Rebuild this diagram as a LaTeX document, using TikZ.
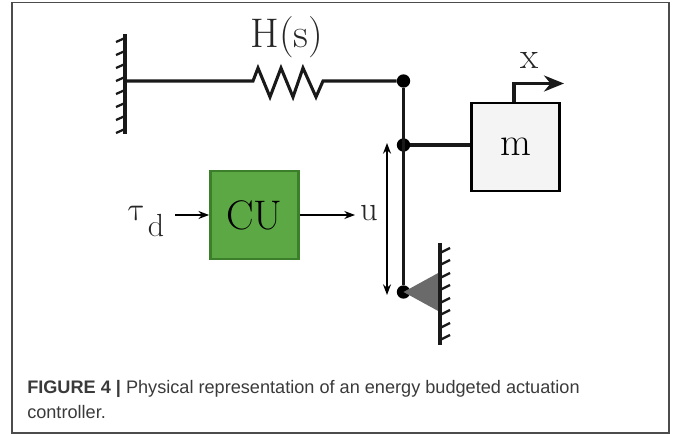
\documentclass[tikz,border=0pt]{standalone}
\usepackage{amsmath}
\usepackage{fontspec}
\usetikzlibrary{arrows.meta}
\newfontfamily\capfont{Liberation Sans}
\definecolor{cugreen}{HTML}{5BA845}
\definecolor{cuedge}{HTML}{3B7F2A}
\definecolor{massgray}{HTML}{F4F4F4}
\definecolor{pivotgray}{HTML}{6A6A6A}
\definecolor{capgray}{HTML}{3A3A3A}
\tikzset{
  bar/.style={line width=2.3pt, black!90},
  tick/.style={line width=1.7pt, black!90},
  dot/.style={circle, fill=black, inner sep=0pt, minimum size=10pt},
  boxnode/.style={draw, line width=2.1pt, minimum size=66pt, inner sep=0pt, font=\fontsize{30}{30}\selectfont},
  lab/.style={inner sep=0pt, font=\fontsize{28}{28}\selectfont, text=black!85},
  sig/.style={line width=1pt, -{Stealth[length=8pt,width=6pt]}},
  caption/.style={anchor=base west, inner sep=0pt, text=capgray, font=\capfont\fontsize{13.6}{13.6}\selectfont}
}
\begin{document}
\begin{tikzpicture}[x=0.75pt,y=-0.75pt]
\useasboundingbox (0,0) rectangle (673,434);
\draw[line width=1pt, black!70] (12,2.5) rectangle (669,433);

% wall on the left
\coordinate (wallTop) at (125,34);
\coordinate (wallBot) at (125,134);
\coordinate (springIn) at (253,81);
\coordinate (springOut) at (323,81);
\coordinate (wallJoin) at (125,81);
\draw[bar] (wallTop) -- (wallBot);
\foreach \y in {38,51,64,77,90,103,116,129}
  \draw[tick] (125,\y) -- (116,\y+4);

% spring
\node[dot] (top) at (403.5,81) {};
\node[dot] (mid) at (403.5,145) {};
\node[dot] (bot) at (403.5,292) {};
\draw[bar, line join=miter] (wallJoin) -- (springIn) -- (258,68) -- (270,97) -- (281,68) -- (293,97) -- (303,68) -- (316,97) -- (springOut) -- (top);
\node[lab, font=\fontsize{31}{31}\selectfont] (hs) at (287,37) {H(s)};

% mass and pivot
\draw[bar] (top) -- (bot);
\node[boxnode, fill=massgray] (mass) at (515.5,147) {m};
\draw[bar] (mid) -- (mass.west |- mid);
\coordinate (xEnd) at (564,83.5);
\draw[bar, -{Stealth[length=15pt,width=12pt]}] (514,102) |- (xEnd);
\node[lab] (xlab) at (530,60) {x};

\coordinate (wallTwoTop) at (440,243);
\coordinate (wallTwoBot) at (440,345);
\fill[pivotgray] (bot.center) -- (440,272) -- (440,312) -- cycle;
\draw[bar] (wallTwoTop) -- (wallTwoBot);
\foreach \y in {253,265,278,290,303,315,328,340}
  \draw[tick] (440,\y) -- (450,\y-5);

% control unit
\node[boxnode, draw=cuedge, fill=cugreen, font=\fontsize{31}{31}\selectfont] (cu) at (254.5,215) {CU};
\node[lab, xslant=-0.25, transform shape] (tau) at (137,213) {$\tau$};
\node[lab, font=\fontsize{24}{24}\selectfont] (dsub) at (156,226) {d};
\coordinate (tauEnd) at (175,215);
\coordinate (uEnd) at (355,215);
\node[lab, font=\fontsize{26}{26}\selectfont] (ulab) at (369,213) {u};
\draw[sig] (tauEnd) -- (cu.west);
\draw[sig] (cu.east) -- (uEnd);
\coordinate (uTop) at (387,143);
\coordinate (uBot) at (387,295);
\draw[line width=1pt, {Stealth[length=8pt,width=6pt]}-{Stealth[length=8pt,width=6pt]}] (uTop) -- (uBot);

% caption
\node[caption] (capA) at (27,393) {{\bfseries FIGURE 4 |} Physical representation of an energy budgeted actuation};
\node[caption] (capB) at (27,418) {controller.};
\end{tikzpicture}
\end{document}
